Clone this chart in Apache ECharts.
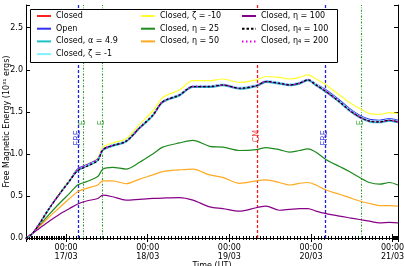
<!DOCTYPE html>
<html><head><meta charset="utf-8">
<script src="https://cdn.jsdelivr.net/npm/echarts@6/dist/echarts.min.js"></script>
<style>html,body{margin:0;padding:0;background:#fff}#c{width:404px;height:266px}</style>
</head><body><div id="c"></div>
<script>
// hours relative to 17/03 00:00 UT
const hours = [-11.8,-10,-8,-5,-2,1,3.4,6,9.3,10.8,13.7,17.6,21.6,25.5,28.4,33.3,37.3,42.2,46.1,51,55.9,58.8,62.7,65.7,68.6,71.1,73.5,76.5,80.4,83.3,86.3,89.2,92.2,95.1,97.6];
const closed   = [0,0.05,0.16,0.35,0.52,0.68,0.81,0.86,0.93,1.05,1.10,1.15,1.31,1.46,1.62,1.70,1.80,1.80,1.82,1.78,1.81,1.86,1.84,1.82,1.84,1.88,1.82,1.74,1.62,1.52,1.44,1.39,1.38,1.40,1.38];
const open     = [0,0.05,0.16,0.35,0.52,0.68,0.82,0.87,0.94,1.05,1.10,1.15,1.31,1.46,1.62,1.70,1.80,1.80,1.82,1.78,1.81,1.86,1.84,1.82,1.84,1.88,1.83,1.76,1.64,1.54,1.46,1.41,1.40,1.42,1.40];
const alpha49  = [0,0.05,0.16,0.35,0.52,0.68,0.80,0.85,0.92,1.04,1.09,1.14,1.30,1.45,1.61,1.69,1.79,1.79,1.81,1.77,1.80,1.85,1.83,1.81,1.83,1.87,1.81,1.73,1.61,1.51,1.43,1.38,1.37,1.39,1.37];
const zetaM1   = [0,0.05,0.16,0.35,0.52,0.68,0.81,0.86,0.93,1.06,1.11,1.16,1.32,1.47,1.63,1.71,1.81,1.81,1.83,1.79,1.82,1.87,1.85,1.83,1.85,1.89,1.83,1.75,1.63,1.53,1.45,1.40,1.39,1.41,1.39];
const zetaM10  = [0,0.05,0.16,0.35,0.53,0.69,0.82,0.87,0.95,1.08,1.13,1.18,1.35,1.51,1.67,1.76,1.87,1.87,1.89,1.85,1.88,1.92,1.91,1.89,1.91,1.94,1.89,1.82,1.70,1.61,1.54,1.48,1.47,1.49,1.48];
const eta25    = [0,0.05,0.14,0.28,0.41,0.53,0.63,0.67,0.73,0.82,0.84,0.82,0.90,1.00,1.08,1.13,1.16,1.09,1.08,1.04,1.05,1.075,1.05,1.02,1.04,1.06,1.02,0.93,0.85,0.79,0.72,0.66,0.64,0.66,0.63];
const eta50    = [0,0.05,0.13,0.25,0.36,0.47,0.55,0.59,0.63,0.68,0.68,0.645,0.70,0.75,0.79,0.81,0.82,0.75,0.72,0.65,0.68,0.69,0.66,0.63,0.65,0.66,0.63,0.57,0.52,0.48,0.44,0.41,0.385,0.385,0.38];
const eta100   = [0,0.05,0.11,0.20,0.28,0.35,0.405,0.44,0.47,0.51,0.49,0.45,0.46,0.47,0.475,0.48,0.45,0.37,0.35,0.32,0.36,0.38,0.33,0.34,0.35,0.35,0.32,0.29,0.26,0.24,0.22,0.20,0.18,0.185,0.18];
const eta4_100 = [0,0.05,0.16,0.35,0.52,0.68,0.80,0.85,0.92,1.05,1.10,1.15,1.31,1.46,1.62,1.70,1.80,1.80,1.82,1.78,1.81,1.86,1.84,1.82,1.84,1.88,1.82,1.74,1.62,1.52,1.44,1.39,1.38,1.40,1.38];
const eta4_200 = [0,0.05,0.16,0.35,0.52,0.68,0.81,0.86,0.93,1.05,1.10,1.15,1.31,1.46,1.62,1.70,1.80,1.80,1.82,1.78,1.81,1.86,1.84,1.82,1.84,1.88,1.82,1.74,1.62,1.52,1.44,1.39,1.38,1.40,1.38];

const eventHours  = [3.5, 5.0, 10.5, 56.1, 76.2, 86.8];
const eventLabels = ['FRE','E','E','CM','FRE','E'];
const eventLabelY = [1.25, 1.31, 1.31, 1.27, 1.25, 1.31];

const yTicks = [0, 0.5, 1.0, 1.5, 2.0, 2.5];
const xMinH = -11.8, xMaxH = 97.6, yMax = 2.77;

const FONT = 'DejaVu Sans';
const HOUR = 3600e3, DAY = 24*HOUR;
const t0 = new Date(2011, 2, 17, 0, 0, 0).getTime();
const ts = h => t0 + h*HOUR;
const pad = n => (n < 10 ? '0' : '') + n;

function mk(name, vals, color, width, type, z) {
  return {
    name, type: 'line', symbol: 'none', z: z || 2,
    data: hours.map((h, i) => [ts(h), vals[i]]),
    lineStyle: {color, width, type: type || 'solid'},
    itemStyle: {color},
    smooth: 0.3
  };
}

const evColor = {FRE: '#2222dd', E: '#2a9a2a', CM: '#ee2222'};
const evType = {FRE: [3, 2], E: [2, 1.5, 0.8, 1.5], CM: [3, 2]};

const series = [
  mk('Closed', closed, '#ff2020', 1.2, 'solid', 2),
  mk('Open', open, '#3030ee', 1.2, 'solid', 3),
  mk('Closed, α = 4.9', alpha49, '#20c0c8', 1.2, 'solid', 4),
  mk('Closed, ζ = -1', zetaM1, '#80f0ff', 1.2, 'solid', 3),
  mk('Closed, ζ = -10', zetaM10, '#ffff30', 1.2, 'solid', 2),
  mk('Closed, η = 25', eta25, '#1e8a1e', 1.2, 'solid', 2),
  mk('Closed, η = 50', eta50, '#ffaa22', 1.2, 'solid', 2),
  mk('Closed, η = 100', eta100, '#880088', 1.2, 'solid', 2),
  mk('Closed, η₄ = 100', eta4_100, '#000000', 1.2, [2.5, 2], 6),
  mk('Closed, η₄ = 200', eta4_200, '#dd00dd', 2, [1.5, 2.5], 5),
  {
    name: 'events', type: 'scatter', symbolSize: 1, z: 7,
    itemStyle: {color: 'rgba(0,0,0,0)'},
    data: eventHours.map((h, i) => {
      const lab = eventLabels[i];
      const left = lab !== 'E';
      return {
        value: [ts(h), eventLabelY[i]],
        label: {
          show: true, formatter: lab, rotate: 90, position: 'inside',
          offset: [left ? -5 : 5, 0], color: evColor[lab], fontSize: 8, fontFamily: FONT
        }
      };
    }),
    markLine: {
      silent: true, symbol: ['none', 'none'], label: {show: false}, z: 1,
      data: eventHours.map((h, i) => ({
        xAxis: ts(h),
        lineStyle: {color: evColor[eventLabels[i]], width: eventLabels[i] === 'E' ? 1.1 : 1.3, type: evType[eventLabels[i]]}
      }))
    }
  }
];

const lg = (names, left) => ({
  data: names,
  left, top: 12, orient: 'vertical', itemWidth: 14, itemHeight: 8, itemGap: 4.7,
  itemStyle: {opacity: 0, borderWidth: 0},
  textStyle: {fontSize: 8, fontFamily: FONT, color: '#000'},
  padding: 0, selectedMode: false, z: 60
});

const xAxisBase = {
  type: 'time', min: ts(xMinH), max: ts(xMaxH), minInterval: DAY, maxInterval: DAY,
  axisLine: {lineStyle: {color: '#000', width: 1}},
  axisTick: {inside: true, length: 4, lineStyle: {color: '#000'}},
  minorTick: {show: true, splitNumber: 24, length: 2, lineStyle: {color: '#000'}},
  splitLine: {show: false}
};
const yAxisBase = {
  type: 'value', min: 0, max: yMax, interval: 0.5,
  axisLine: {show: true, lineStyle: {color: '#000', width: 1}},
  axisTick: {show: true, inside: true, length: 4, lineStyle: {color: '#000'}},
  splitLine: {show: false}
};

const option = {
  animation: false,
  textStyle: {fontFamily: FONT},
  grid: {left: 26, right: 6, top: 5, bottom: 28, outerBoundsMode: 'none', containLabel: false},
  legend: [
    lg(['Closed', 'Open', 'Closed, α = 4.9', 'Closed, ζ = -1'], 36),
    lg(['Closed, ζ = -10', 'Closed, η = 25', 'Closed, η = 50'], 140),
    lg(['Closed, η = 100', 'Closed, η₄ = 100', 'Closed, η₄ = 200'], 241)
  ],
  graphic: [{type: 'rect', shape: {x: 30.5, y: 9.5, width: 307, height: 53}, style: {fill: '#fff', stroke: '#000', lineWidth: 1}, z: 55}],
  xAxis: [
    Object.assign({}, xAxisBase, {
      position: 'bottom',
      name: 'Time (UT)', nameLocation: 'middle', nameGap: 24, nameMoveOverlap: false,
      nameTextStyle: {fontSize: 8, color: '#000', fontFamily: FONT},
      axisLabel: {
        fontSize: 8, color: '#000', fontFamily: FONT, lineHeight: 9, margin: 5,
        formatter: v => { const d = new Date(v); return pad(d.getHours()) + ':' + pad(d.getMinutes()) + '\n' + pad(d.getDate()) + '/' + pad(d.getMonth() + 1); }
      }
    }),
    Object.assign({}, xAxisBase, {position: 'top', axisLabel: {show: false}})
  ],
  yAxis: [
    Object.assign({}, yAxisBase, {
      position: 'left',
      name: 'Free Magnetic Energy (10³¹ ergs)', nameLocation: 'middle', nameGap: 15.5, nameMoveOverlap: false,
      nameTextStyle: {fontSize: 8, color: '#000', fontFamily: FONT},
      axisLabel: {fontSize: 8, color: '#000', fontFamily: FONT, margin: 3,
        formatter: v => (yTicks.indexOf(Math.round(v * 100) / 100) >= 0 ? v.toFixed(1) : '')}
    }),
    Object.assign({}, yAxisBase, {position: 'right', axisLabel: {show: false}})
  ],
  series
};
const chart = echarts.init(document.getElementById('c'), null, {renderer: 'canvas'});
chart.setOption(option);
</script></body></html>
